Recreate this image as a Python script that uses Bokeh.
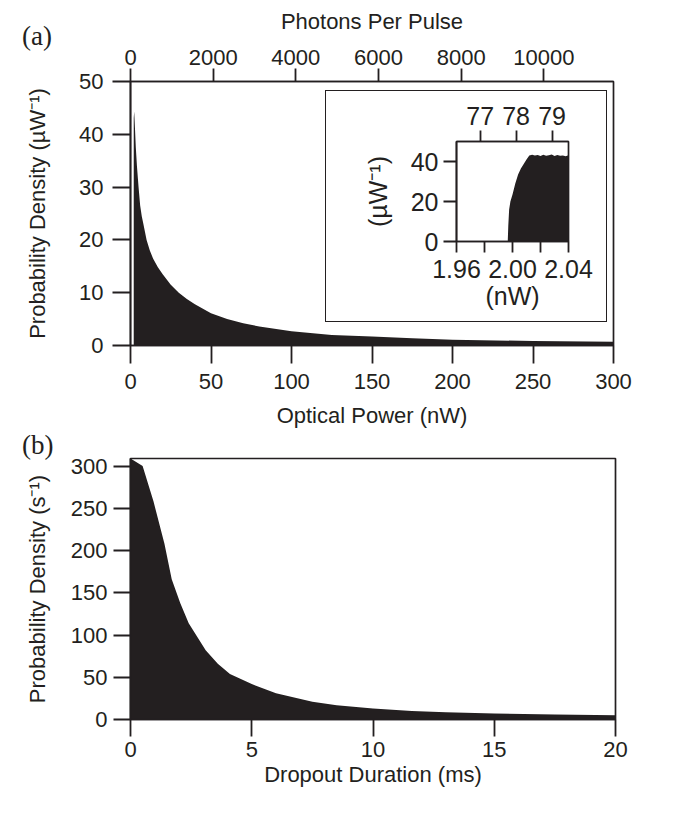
from bokeh.plotting import figure
from bokeh.models import Range1d, LinearAxis, FixedTicker, PrintfTickFormatter
from bokeh.layouts import column
from bokeh.embed import file_html
from bokeh.resources import INLINE
from bokeh.core.properties import value

# ---------------- data ----------------
# (a) optical power distribution
power_nw = [2.0, 2.012, 2.04, 2.3, 2.8, 3.3, 4, 5, 6, 7, 8, 10, 12, 14, 17, 20, 25, 30,
            35, 40, 50, 60, 70, 80, 100, 125, 150, 175, 200, 250, 300]
density_uw = [0, 43, 43.2, 44.3, 41, 37.5, 34, 30, 26.5, 24.5, 23, 20, 18, 16.5, 14.8,
              13.5, 11.5, 10, 8.8, 7.8, 6.1, 5.0, 4.2, 3.6, 2.7, 2.0, 1.7, 1.35, 1.1, 0.85, 0.7]
power_ticks = [0, 50, 100, 150, 200, 250, 300]
density_ticks = [0, 10, 20, 30, 40, 50]
photon_ticks = [0, 2000, 4000, 6000, 8000, 10000]
PHOTONS_PER_NW = 38.95

# (a) inset: zoom around the 2 nW threshold
inset_power_nw = [1.96, 1.9966, 1.9970, 1.9976, 1.9985, 2.000, 2.002, 2.004, 2.006, 2.008,
                  2.010, 2.012, 2.014, 2.016, 2.018, 2.020, 2.022, 2.024, 2.026, 2.028,
                  2.030, 2.032, 2.034, 2.036, 2.038, 2.040]
inset_density_uw = [0, 0, 8, 16, 20, 23.5, 29, 33.5, 36.5, 38.8, 41, 43, 43.4, 43.0, 43.3,
                    42.8, 43.4, 42.9, 43.1, 43.5, 42.7, 43.2, 42.9, 43.0, 42.6, 43.1]
inset_power_ticks = [1.96, 2.00, 2.04]
inset_power_minor = [1.98, 2.02]
inset_photon_ticks = [77, 78, 79]
inset_density_ticks = [0, 20, 40]

# (b) dropout duration distribution
duration_ms = [0, 0.5, 0.95, 1.4, 1.7, 2.05, 2.4, 2.75, 3.1, 3.6, 4.1, 5, 6, 7.5, 8.5,
               10, 11.6, 13, 15, 17.5, 20]
density_s = [309, 300, 258, 208, 166, 138, 114, 98, 82, 66, 54, 42, 31, 21, 17, 13, 10,
             8.5, 7, 6, 5]
duration_ticks = [0, 5, 10, 15, 20]
rate_ticks = [0, 50, 100, 150, 200, 250, 300]

panel_tags = ["(a)", "(b)"]

INK = "#231f20"
FONT = "Liberation Sans"
MAIN = "22px"
INSET = "25px"


def style_axis(ax, size, tick_out, label_standoff, title_standoff, minor=False):
    ax.axis_line_color = INK
    ax.axis_line_width = 1.7
    ax.major_tick_line_color = INK
    ax.major_tick_line_width = 1.8
    ax.major_tick_in = 0
    ax.major_tick_out = tick_out
    ax.minor_tick_in = 0
    ax.minor_tick_out = tick_out if minor else 0
    ax.minor_tick_line_color = INK
    ax.minor_tick_line_width = 1.8
    ax.major_label_text_font = FONT
    ax.major_label_text_font_size = size
    ax.major_label_text_color = INK
    ax.major_label_standoff = label_standoff
    ax.axis_label_text_font = FONT
    ax.axis_label_text_font_size = size
    ax.axis_label_text_font_style = "normal"
    ax.axis_label_text_color = INK
    ax.axis_label_standoff = title_standoff


def base_fig(**kw):
    p = figure(output_backend="svg", toolbar_location=None, **kw)
    p.grid.visible = False
    p.outline_line_color = INK
    p.outline_line_width = 1.7
    p.background_fill_color = "white"
    p.border_fill_color = "white"
    return p


def tag_fig(tag):
    f = figure(output_backend="svg", toolbar_location=None, width=46, height=38,
               x_range=Range1d(0, 1), y_range=Range1d(0, 1), min_border=0,
               x_axis_location=None, y_axis_location=None)
    f.grid.visible = False
    f.outline_line_color = None
    f.background_fill_alpha = 0
    f.border_fill_alpha = 0
    f.text(x=[0.02], y=[0.5], text=[tag], text_font=value("Liberation Serif"),
           text_font_size="27px", text_color=INK, text_baseline="middle", text_align="left")
    return f


# ---------------- panel (a) ----------------
pa = base_fig(width=653, height=435, x_range=Range1d(0, 300), y_range=Range1d(0, 50),
              min_border_left=120, min_border_right=30, min_border_top=81, min_border_bottom=90)
pa.varea(x=power_nw, y1=0, y2=density_uw, fill_color=INK)
pa.xaxis.ticker = FixedTicker(ticks=power_ticks)
pa.yaxis.ticker = FixedTicker(ticks=density_ticks)
pa.xaxis.axis_label = "Optical Power (nW)"
pa.yaxis.axis_label = "Probability Density (\u00b5W\u207b\u00b9)"
pa.xaxis.formatter = PrintfTickFormatter(format="%d")
pa.yaxis.formatter = PrintfTickFormatter(format="%d")
style_axis(pa.xaxis[0], MAIN, 18, 10, 11)
style_axis(pa.yaxis[0], MAIN, 18, 9, 26)

pa.extra_x_ranges = {"photons": Range1d(0, 300 * PHOTONS_PER_NW)}
top_ax = LinearAxis(x_range_name="photons", axis_label="Photons Per Pulse",
                    ticker=FixedTicker(ticks=photon_ticks),
                    formatter=PrintfTickFormatter(format="%d"))
style_axis(top_ax, MAIN, 13, 4, 13)
pa.add_layout(top_ax, "above")

fa = tag_fig(panel_tags[0])
fa.margin = (-419, 0, 0, 13)

# ---------------- inset ----------------
pi = base_fig(width=282, height=232, x_range=Range1d(1.96, 2.04), y_range=Range1d(0, 50),
              min_border_left=101, min_border_right=40, min_border_top=50, min_border_bottom=82)
pi.varea(x=inset_power_nw, y1=0, y2=inset_density_uw, fill_color=INK)
pi.xaxis.ticker = FixedTicker(ticks=inset_power_ticks, minor_ticks=inset_power_minor)
pi.xaxis.formatter = PrintfTickFormatter(format="%.2f")
pi.yaxis.ticker = FixedTicker(ticks=inset_density_ticks)
pi.yaxis.formatter = PrintfTickFormatter(format="%d")
pi.xaxis.axis_label = "(nW)"
pi.yaxis.axis_label = "(\u00b5W\u207b\u00b9)"
style_axis(pi.xaxis[0], INSET, 11, 7, 1, minor=True)
style_axis(pi.yaxis[0], INSET, 13, 5, 16)
pi.extra_x_ranges = {"photons": Range1d(1.96 * PHOTONS_PER_NW, 2.04 * PHOTONS_PER_NW)}
inset_top = LinearAxis(x_range_name="photons", ticker=FixedTicker(ticks=inset_photon_ticks),
                       formatter=PrintfTickFormatter(format="%d"))
style_axis(inset_top, INSET, 11, 6, 0)
pi.add_layout(inset_top, "above")
pi.styles = {"border": "1.5px solid #231f20"}
pi.margin = (36, 0, 0, 325)

# ---------------- panel (b) ----------------
pb = base_fig(width=655, height=362, x_range=Range1d(0, 20), y_range=Range1d(0, 309),
              min_border_left=130, min_border_right=23, min_border_top=26, min_border_bottom=75)
pb.varea(x=duration_ms, y1=0, y2=density_s, fill_color=INK)
pb.xaxis.ticker = FixedTicker(ticks=duration_ticks)
pb.yaxis.ticker = FixedTicker(ticks=rate_ticks)
pb.xaxis.formatter = PrintfTickFormatter(format="%d")
pb.yaxis.formatter = PrintfTickFormatter(format="%d")
pb.xaxis.axis_label = "Dropout Duration (ms)"
pb.yaxis.axis_label = "Probability Density (s\u207b\u00b9)"
style_axis(pb.xaxis[0], MAIN, 17, 5, 2)
style_axis(pb.yaxis[0], MAIN, 17, 6, 18)
pb.margin = (110, 0, 0, 0)

fb = tag_fig(panel_tags[1])
fb.margin = (-369, 0, 331, 13)

layout = column(pa, fa, pi, pb, fb)
open("out.html", "w").write(file_html(layout, INLINE))
